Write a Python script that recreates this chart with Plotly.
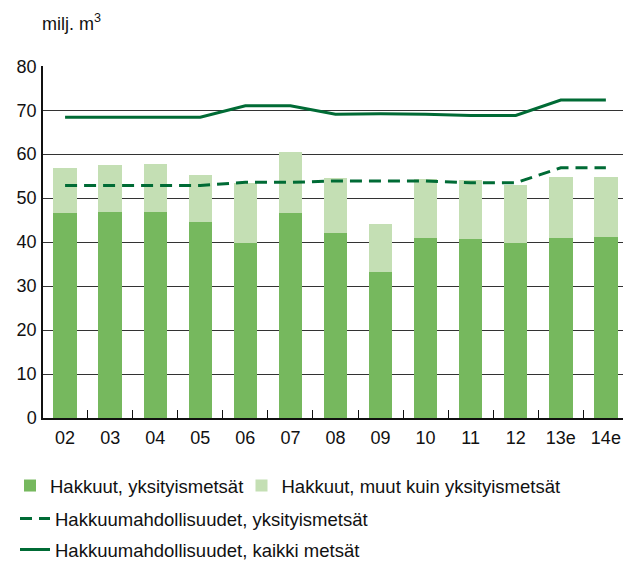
import plotly.graph_objects as go

categories = ['02', '03', '04', '05', '06', '07', '08', '09', '10', '11', '12', '13e', '14e']
hakkuut_yksityis = [46.7, 46.9, 46.9, 44.6, 39.8, 46.7, 42.0, 33.3, 41.0, 40.8, 39.8, 41.0, 41.2]
hakkuut_muut = [10.2, 10.7, 10.9, 10.7, 13.7, 13.8, 12.6, 10.9, 13.4, 13.4, 13.2, 13.8, 13.6]
mahd_yksityis = [52.9, 52.9, 52.9, 52.9, 53.6, 53.6, 53.9, 53.9, 53.9, 53.5, 53.5, 56.9, 56.9]
mahd_kaikki = [68.4, 68.4, 68.4, 68.4, 71.0, 71.0, 69.1, 69.2, 69.1, 68.8, 68.8, 72.3, 72.3]
y_ticks = [0, 10, 20, 30, 40, 50, 60, 70, 80]

FONT = "Liberation Sans, Arial, sans-serif"
FS = 18
LFS = 18.5
DARK = "#76b85e"
LIGHT = "#c4dfb4"
LINE = "#006b35"
W, H = 623, 561
T, B = 66, 143
PH = H - T - B

fig = go.Figure()
fig.add_trace(go.Bar(x=categories, y=hakkuut_yksityis, name="Hakkuut, yksityismetsät",
                     marker=dict(color=DARK, line=dict(width=0)), legend="legend",
                     showlegend=True))
fig.add_trace(go.Bar(x=categories, y=hakkuut_muut, name="Hakkuut, muut kuin yksityismetsät",
                     marker=dict(color=LIGHT, line=dict(width=0)), legend="legend4",
                     showlegend=True))
fig.add_trace(go.Scatter(x=categories, y=mahd_yksityis, mode="lines",
                         name="Hakkuumahdollisuudet, yksityismetsät",
                         line=dict(color=LINE, width=3, dash="12px,7px"), legend="legend2",
                         showlegend=True))
fig.add_trace(go.Scatter(x=categories, y=mahd_kaikki, mode="lines",
                         name="Hakkuumahdollisuudet, kaikki metsät",
                         line=dict(color=LINE, width=3), legend="legend3",
                         showlegend=True))

legend_common = dict(orientation="h", xref="container", yref="container",
                     xanchor="left", yanchor="middle", bgcolor="rgba(0,0,0,0)",
                     traceorder="normal", visible=True,
                     font=dict(family=FONT, size=LFS, color="#111"), borderwidth=0)

fig.update_layout(
    width=W, height=H,
    showlegend=True,
    margin=dict(l=43, r=0, t=T, b=B),
    plot_bgcolor="white", paper_bgcolor="white",
    barmode="stack", bargap=0.48,
    font=dict(family=FONT, size=FS, color="#111"),
    xaxis=dict(type="category", range=[-0.49, 12.38], showgrid=False,
               showline=True, linecolor="#111", linewidth=1.5,
               ticks="inside", tickson="boundaries", ticklen=8, tickcolor="#111",
               tickwidth=1, ticklabelstandoff=3,
               tickfont=dict(family=FONT, size=FS, color="#111")),
    yaxis=dict(range=[0, 80.05], tickvals=y_ticks, showgrid=True, gridcolor="#333",
               gridwidth=1, showline=True, linecolor="#111", linewidth=1.5,
               ticks="", ticklabelstandoff=1, zeroline=False,
               tickfont=dict(family=FONT, size=FS, color="#111")),
    legend=dict(x=10 / W, y=1 - 486 / H, **legend_common),
    legend4=dict(x=241.5 / W, y=1 - 486 / H, **legend_common),
    legend2=dict(x=15 / W, y=1 - 519 / H, **legend_common),
    legend3=dict(x=15 / W, y=1 - 550 / H, **legend_common),
    annotations=[dict(text="milj. m<sup>3</sup>", xref="paper", yref="paper",
                      x=0, y=1 + (T - 22) / PH, xanchor="left", yanchor="middle",
                      showarrow=False, xshift=-3,
                      font=dict(family=FONT, size=FS, color="#111"))],
)

fig.write_html("out.html", config={"displayModeBar": False},
               post_script="document.body.style.margin='0';document.body.style.overflow='hidden';")
